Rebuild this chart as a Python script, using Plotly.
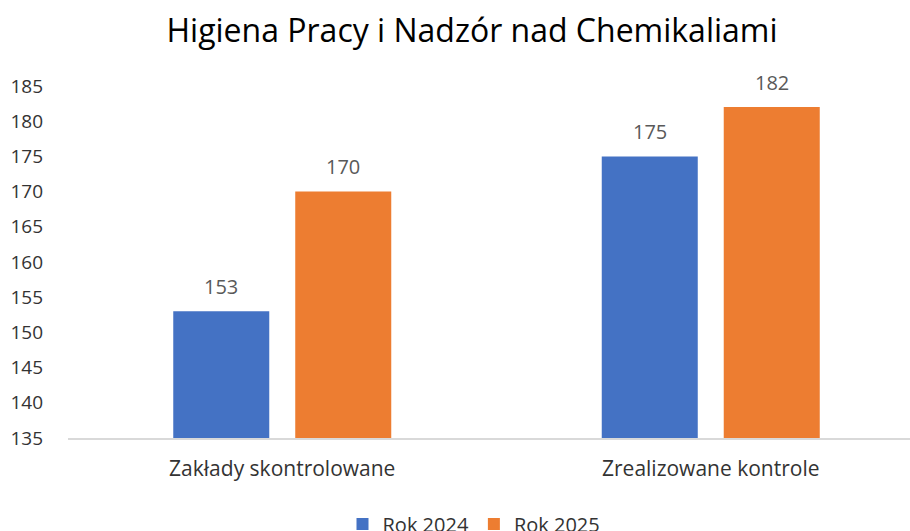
import plotly.graph_objects as go

categories = ["Zakłady skontrolowane", "Zrealizowane kontrole"]
series_names = ["Rok 2024", "Rok 2025"]
values_2024 = [153, 175]
values_2025 = [170, 182]
y_ticks = [135, 140, 145, 150, 155, 160, 165, 170, 175, 180, 185]

colors = ["#4472C4", "#ED7D31"]
font_family = "Open Sans, Noto Sans, sans-serif"

fig = go.Figure()
for name, vals, col in zip(series_names, [values_2024, values_2025], colors):
    fig.add_trace(go.Bar(x=categories, y=vals, name=name, marker_color=col,
                         marker_line_width=0))

# data labels
for i, (name, vals) in enumerate(zip(series_names, [values_2024, values_2025])):
    shift = -61 if i == 0 else 61
    for c, v in zip(categories, vals):
        fig.add_annotation(x=c, y=v, text=str(v), showarrow=False,
                           xshift=shift, yshift=25, yanchor="middle",
                           font=dict(family=font_family, size=20, color="#595959"))

fig.update_layout(
    width=910, height=531,
    margin=dict(l=68, r=0, t=86, b=93, autoexpand=False),
    paper_bgcolor="white", plot_bgcolor="white",
    barmode="group", bargap=0.4306, bargroupgap=0.213,
    title=dict(text="Higiena Pracy i Nadzór nad Chemikaliami",
               x=472 / 910, xanchor="center", y=1 - 31 / 531, yanchor="middle",
               font=dict(family=font_family, size=32, color="#000000")),
    font=dict(family=font_family, color="#333333"),
    showlegend=True,
    legend=dict(orientation="h", x=474 / 910, xanchor="center", xref="container",
                y=1 - 524 / 531, yanchor="middle", yref="container",
                font=dict(size=20, color="#333333"),
                itemwidth=30, traceorder="normal"),
)
fig.update_xaxes(range=[-0.5, 1.465], showline=True, linecolor="#D9D9D9", linewidth=1.5,
                 ticks="", showgrid=False, automargin=False, ticklabelstandoff=11,
                 tickfont=dict(size=21, color="#333333"))
fig.update_yaxes(range=[135, 185], tickvals=y_ticks, showgrid=False, zeroline=False,
                 showline=False, ticks="", ticklabelstandoff=24, automargin=False,
                 tickfont=dict(size=19, color="#333333"))

fig.write_html("out.html", config={"displayModeBar": False},
               post_script="document.body.style.margin='0';")
